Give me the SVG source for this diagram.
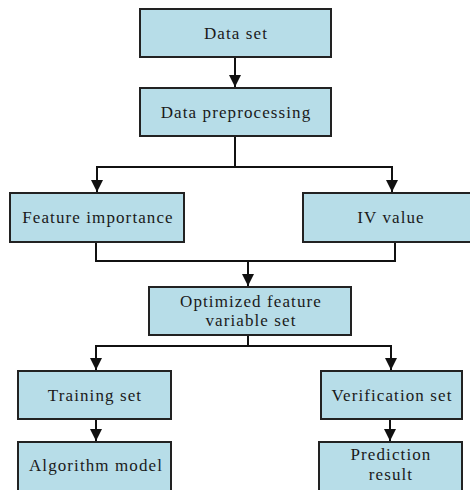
<svg xmlns="http://www.w3.org/2000/svg" width="470" height="490" viewBox="0 0 470 490">
  <style>
    .box { fill: #b7dde8; stroke: #222222; stroke-width: 2; }
    .lbl { font-family: 'Liberation Serif', 'Times New Roman', 'DejaVu Serif', serif; font-size: 17px; letter-spacing: 1.1px; fill: #1a1a1a; text-anchor: middle; }
    .wire { fill: none; stroke: #111111; stroke-width: 2; }
  </style>
  <defs>
    <marker id="arrow" markerUnits="userSpaceOnUse" markerWidth="14" markerHeight="12" refX="12" refY="6" orient="auto">
      <path d="M0,0 L12,6 L0,12 z" fill="#111111"/>
    </marker>
  </defs>
  <rect width="470" height="490" fill="#ffffff"/>

  <g id="connectors">
    <path class="wire" d="M235,57 V87" marker-end="url(#arrow)"/>
    <path class="wire" d="M235,136 V167 H97 V192" marker-end="url(#arrow)"/>
    <path class="wire" d="M235,167 H392 V192" marker-end="url(#arrow)"/>
    <path class="wire" d="M96,242 V261 H395 V242"/>
    <path class="wire" d="M248,261 V286" marker-end="url(#arrow)"/>
    <path class="wire" d="M248,335 V346 H96 V370" marker-end="url(#arrow)"/>
    <path class="wire" d="M248,346 H391 V370" marker-end="url(#arrow)"/>
    <path class="wire" d="M96,419 V441" marker-end="url(#arrow)"/>
    <path class="wire" d="M390,419 V441" marker-end="url(#arrow)"/>
  </g>

  <g id="data-set">
    <rect class="box" x="140" y="9" width="191" height="48"/>
    <text class="lbl" x="236" y="39">Data set</text>
  </g>
  <g id="data-preprocessing">
    <rect class="box" x="140" y="88" width="191" height="48"/>
    <text class="lbl" x="236" y="118">Data preprocessing</text>
  </g>
  <g id="feature-importance">
    <rect class="box" x="10" y="193" width="174" height="49"/>
    <text class="lbl" x="98" y="223">Feature importance</text>
  </g>
  <g id="iv-value">
    <rect class="box" x="303" y="193" width="177" height="49"/>
    <text class="lbl" x="391" y="223">IV value</text>
  </g>
  <g id="optimized-set">
    <rect class="box" x="149" y="287" width="202" height="48"/>
    <text class="lbl" x="251" y="306.5">Optimized feature</text>
    <text class="lbl" x="251" y="325.5">variable set</text>
  </g>
  <g id="training-set">
    <rect class="box" x="18" y="371" width="153" height="48"/>
    <text class="lbl" x="95" y="401">Training set</text>
  </g>
  <g id="verification-set">
    <rect class="box" x="321" y="371" width="141" height="48"/>
    <text class="lbl" x="392" y="401">Verification set</text>
  </g>
  <g id="algorithm-model">
    <rect class="box" x="18" y="442" width="153" height="52"/>
    <text class="lbl" x="96" y="471">Algorithm model</text>
  </g>
  <g id="prediction-result">
    <rect class="box" x="319" y="442" width="143" height="52"/>
    <text class="lbl" x="391" y="460">Prediction</text>
    <text class="lbl" x="391" y="480">result</text>
  </g>
</svg>
